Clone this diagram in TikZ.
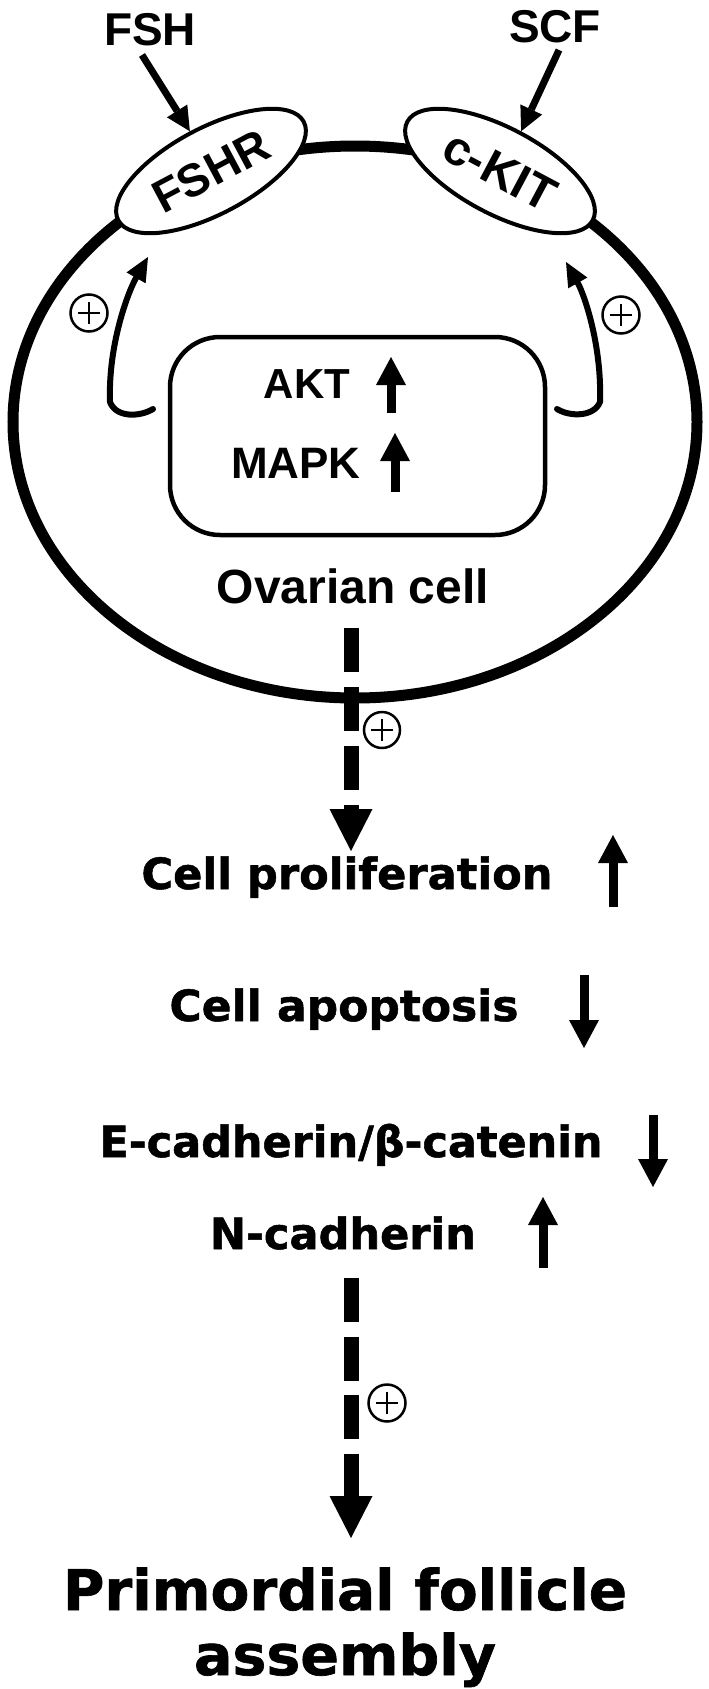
\documentclass[tikz,border=0pt]{standalone}
\usepackage{fontspec}
\usepackage{graphicx}
\setmainfont{Liberation Sans}
\newfontfamily\heavyfont{DejaVu Sans}[FakeBold=1.2]
\usetikzlibrary{arrows.meta,shapes.geometric}
\begin{document}
\begin{tikzpicture}[x=1pt,y=-1pt,
  lbl/.style={anchor=base, inner sep=0pt, font=\bfseries\fontsize{#1}{#1}\selectfont},
  heavy/.style={anchor=base, inner sep=0pt, font=\heavyfont\bfseries\fontsize{#1}{#1}\selectfont},
  recep/.style={ellipse, draw, line width=4pt, fill=white, minimum width=210pt, minimum height=86pt, inner sep=0pt, font=\bfseries\fontsize{46}{46}\selectfont},
  blockarrow/.style={line width=9pt, -{Triangle[length=28pt,width=30pt,line width=0pt]}},
  ligarrow/.style={line width=7pt, -{Triangle[length=24pt,width=24pt,line width=0pt]}},
  curvearrow/.style={line width=6pt, line cap=round, -{Triangle[length=24pt,width=22pt,line width=0pt]}},
  dasharrow/.style={line width=15pt, dash pattern=on 44pt off 15pt, -{Triangle[length=42pt,width=43pt,line width=0pt]}},
  oplus/.style={circle, draw, line width=2.5pt, minimum size=37pt, inner sep=0pt,
    path picture={\draw[line width=2.5pt]
      ([xshift=-11pt]path picture bounding box.center) -- ([xshift=11pt]path picture bounding box.center)
      ([yshift=-11pt]path picture bounding box.center) -- ([yshift=11pt]path picture bounding box.center);}}
]
\useasboundingbox (0,0) rectangle (709,1689);

% cell
\node[ellipse, draw, line width=11pt, minimum width=684pt, minimum height=552pt, inner sep=0pt] (cell) at (355,422) {};
% receptors
\node[recep, rotate=28] (fshr) at (211,171) {FSHR};
\node[recep, rotate=-28, font=\bfseries\fontsize{48}{48}\selectfont] (ckit) at (500,171) {c-KIT};
% ligands
\node[lbl=46] (fsh) at (150,45) {FSH};
\node[lbl=46] (scf) at (555,42) {SCF};
\coordinate (fshA) at (142,55);
\coordinate (scfA) at (559,50);
\draw[ligarrow] (fshA) -- (fshr.north);
\draw[ligarrow] (scfA) -- (ckit.north);

% inner box
\node[draw, rounded corners=50pt, line width=4.5pt, minimum width=375pt, minimum height=198pt] (box) at (357.5,436) {};
\node[lbl=42] (akt) at (307,398) {AKT};
\node[lbl=44] (mapk) at (296,478) {MAPK};
\coordinate (aktA) at (391,413); \coordinate (aktB) at (391,357);
\coordinate (mapkA) at (395,492); \coordinate (mapkB) at (395,433);
\draw[blockarrow] (aktA) -- (aktB);
\draw[blockarrow] (mapkA) -- (mapkB);

% feedback arrows
\coordinate (lA) at (153,409);
\coordinate (lB) at (148,257);
\coordinate (rA) at (557,409);
\coordinate (rB) at (566,262);
\draw[curvearrow] (lA) .. controls (140,417) and (116,418) .. (110,402) .. controls (108,345) and (128,292) .. (lB);
\draw[curvearrow] (rA) .. controls (570,417) and (594,417) .. (600,402) .. controls (602,345) and (584,294) .. (rB);
\node[oplus] (pl) at (89,313) {};
\node[oplus] (pr) at (621,315) {};

\node[lbl=48] (ovar) at (353,603) {Ovarian cell};

% first dashed arrow
\coordinate (d1A) at (351,628);
\coordinate (d1B) at (351,851);
\draw[dasharrow] (d1A) -- (d1B);
\node[oplus, minimum size=36pt] (p1) at (382,730) {};

% outcomes
\node[heavy=43] (prolif) at (347,889) {\resizebox{411pt}{\height}{Cell proliferation}};
\node[heavy=43] (apop) at (344,1021) {\resizebox{349pt}{\height}{Cell apoptosis}};
\node[heavy=43] (ecad) at (351,1157) {\resizebox{503pt}{\height}{E-cadherin/β-catenin}};
\node[heavy=43] (ncad) at (343,1249) {\resizebox{266pt}{\height}{N-cadherin}};

\coordinate (prA) at (613,907); \coordinate (prB) at (613,835);
\coordinate (apA) at (584,975); \coordinate (apB) at (584,1048);
\coordinate (ecA) at (653,1115); \coordinate (ecB) at (653,1187);
\coordinate (ncA) at (543,1268); \coordinate (ncB) at (543,1197);
\draw[blockarrow] (prA) -- (prB);
\draw[blockarrow] (apA) -- (apB);
\draw[blockarrow] (ecA) -- (ecB);
\draw[blockarrow] (ncA) -- (ncB);

% second dashed arrow
\coordinate (d2A) at (351,1278);
\coordinate (d2B) at (351,1538);
\draw[dasharrow, dash pattern=on 44pt off 14.5pt] (d2A) -- (d2B);
\node[oplus] (p2) at (387,1403) {};

\node[heavy=56] (prim1) at (345,1610) {\resizebox{564pt}{\height}{Primordial follicle}};
\node[heavy=56] (prim2) at (345,1675) {\resizebox{302pt}{\height}{assembly}};
\end{tikzpicture}
\end{document}
